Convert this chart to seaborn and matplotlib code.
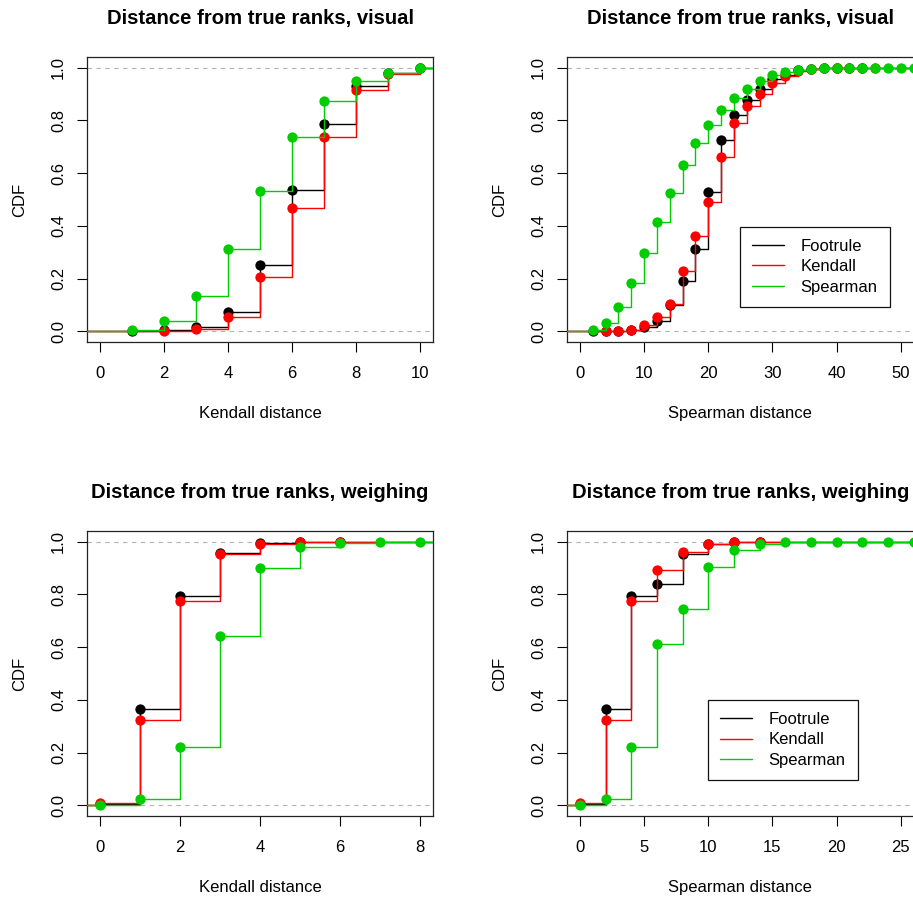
import numpy as np
import pandas as pd
import matplotlib
matplotlib.use("Agg")
import matplotlib.pyplot as plt
import seaborn as sns
from matplotlib.lines import Line2D

# ---- Visual task, Kendall distance ----
vis_kendall_foot_x = [1, 2, 3, 4, 5, 6, 7, 8, 9, 10]
vis_kendall_foot_y = [0.003, 0.005, 0.018, 0.074, 0.251, 0.537, 0.788, 0.932, 0.980, 1.0]
vis_kendall_kend_x = [2, 3, 4, 5, 6, 7, 8, 9, 10]
vis_kendall_kend_y = [0.002, 0.008, 0.054, 0.207, 0.466, 0.737, 0.914, 0.977, 1.0]
vis_kendall_spear_x = [1, 2, 3, 4, 5, 6, 7, 8, 9, 10]
vis_kendall_spear_y = [0.004, 0.038, 0.135, 0.312, 0.534, 0.736, 0.874, 0.948, 0.981, 1.0]

# ---- Visual task, Spearman distance ----
vis_spear_foot_x = [2, 4, 6, 8, 10, 12, 14, 16, 18, 20, 22, 24, 26, 28, 30, 32, 34, 36, 38, 40, 42, 44]
vis_spear_foot_y = [0.001, 0.002, 0.003, 0.006, 0.017, 0.040, 0.100, 0.190, 0.313, 0.530, 0.725,
                    0.820, 0.876, 0.919, 0.955, 0.973, 0.989, 0.995, 0.998, 0.999, 0.999, 1.0]
vis_spear_kend_x = [4, 6, 8, 10, 12, 14, 16, 18, 20, 22, 24, 26, 28, 30, 32, 34, 36, 38, 40, 42, 44, 46]
vis_spear_kend_y = [0.001, 0.002, 0.006, 0.026, 0.056, 0.105, 0.229, 0.361, 0.490, 0.662, 0.790,
                    0.856, 0.900, 0.942, 0.967, 0.986, 0.995, 0.998, 0.999, 0.999, 0.999, 1.0]
vis_spear_spear_x = [2, 4, 6, 8, 10, 12, 14, 16, 18, 20, 22, 24, 26, 28, 30, 32, 34, 36, 38, 40,
                     42, 44, 46, 48, 50, 52]
vis_spear_spear_y = [0.004, 0.033, 0.092, 0.182, 0.298, 0.414, 0.525, 0.629, 0.716, 0.784, 0.841,
                     0.885, 0.920, 0.948, 0.970, 0.982, 0.989, 0.995, 0.997, 0.998, 0.999, 0.999,
                     1.0, 1.0, 1.0, 1.0]

# ---- Weighing task, Kendall distance ----
wei_kendall_foot_x = [0, 1, 2, 3, 4, 5, 6]
wei_kendall_foot_y = [0.006, 0.366, 0.794, 0.955, 0.993, 0.998, 1.0]
wei_kendall_kend_x = [0, 1, 2, 3, 4, 5, 6]
wei_kendall_kend_y = [0.008, 0.322, 0.774, 0.953, 0.992, 0.997, 1.0]
wei_kendall_spear_x = [0, 1, 2, 3, 4, 5, 6, 7, 8]
wei_kendall_spear_y = [0.001, 0.023, 0.221, 0.641, 0.899, 0.979, 0.996, 0.999, 1.0]

# ---- Weighing task, Spearman distance ----
wei_spear_foot_x = [0, 2, 4, 6, 8, 10, 12, 14]
wei_spear_foot_y = [0.006, 0.366, 0.793, 0.838, 0.951, 0.992, 0.998, 1.0]
wei_spear_kend_x = [0, 2, 4, 6, 8, 10, 12, 14]
wei_spear_kend_y = [0.010, 0.322, 0.773, 0.891, 0.962, 0.992, 0.997, 1.0]
wei_spear_spear_x = [0, 2, 4, 6, 8, 10, 12, 14, 16, 18, 20, 22, 24, 26]
wei_spear_spear_y = [0.001, 0.023, 0.220, 0.612, 0.746, 0.904, 0.968, 0.990, 0.998, 1.0, 1.0,
                     1.0, 1.0, 1.0]

methods = ["Footrule", "Kendall", "Spearman"]
colors = {"Footrule": "#000000", "Kendall": "#FF0000", "Spearman": "#00CD00"}

sns.set_theme(style="ticks")
plt.rcParams["font.family"] = ["Liberation Sans", "DejaVu Sans"]
plt.rcParams["text.color"] = "black"

W, H = 913, 899
fig = plt.figure(figsize=(W / 100, H / 100), dpi=100)


def make_axes(left_px, top_px, width_px=346, height_px=285):
    return fig.add_axes([left_px / W, 1 - (top_px + height_px) / H, width_px / W, height_px / H])


def ecdf_panel(ax, series, xlim, xticks, title, xlabel, legend_anchor=None):
    pad = 0.04 * (xlim[1] - xlim[0])
    lo, hi = xlim[0] - pad, xlim[1] + pad
    ax.axhline(0, color="#B3B3B3", ls=(0, (4, 4)), lw=0.8, zorder=1)
    ax.axhline(1, color="#B3B3B3", ls=(0, (4, 4)), lw=0.8, zorder=1)
    for i, (name, xs, ys) in enumerate(series):
        step = pd.DataFrame({"x": [lo] + list(xs) + [hi + 5],
                             "F": [0.0] + list(ys) + [ys[-1]]})
        pts = pd.DataFrame({"x": xs, "F": ys})
        sns.lineplot(data=step, x="x", y="F", drawstyle="steps-post", estimator=None,
                     sort=False, color=colors[name], lw=1.0, ax=ax, zorder=2 + 2 * i)
        sns.scatterplot(data=pts, x="x", y="F", color=colors[name], s=55, linewidth=0,
                        ax=ax, zorder=3 + 2 * i, clip_on=True)
    ax.set_xlim(lo, hi)
    ax.set_ylim(-0.04, 1.04)
    ax.set_xticks(xticks)
    ax.set_yticks([0, 0.2, 0.4, 0.6, 0.8, 1.0])
    ax.set_yticklabels(["0.0", "0.2", "0.4", "0.6", "0.8", "1.0"])
    ax.tick_params(axis="both", direction="out", length=7, width=0.8, color="black",
                   labelsize=12, labelcolor="black")
    ax.tick_params(axis="x", pad=10)
    ax.tick_params(axis="y", pad=8)
    plt.setp(ax.get_yticklabels(), rotation=90, va="center")
    for sp in ax.spines.values():
        sp.set_color("#222222")
        sp.set_linewidth(0.9)
    ax.set_title(title, fontsize=14.6, fontweight="bold", pad=24, color="black")
    ax.set_xlabel(xlabel, fontsize=12, color="black")
    ax.set_ylabel("CDF", fontsize=12, color="black")
    ax.xaxis.set_label_coords(0.5, -0.225)
    ax.yaxis.set_label_coords(-0.173, 0.5)
    if legend_anchor is not None:
        handles = [Line2D([0], [0], color=colors[m], lw=1.0) for m in methods]
        leg = ax.legend(handles, methods, loc="upper left", bbox_to_anchor=legend_anchor,
                        fontsize=12, frameon=True, fancybox=False, framealpha=1,
                        edgecolor="#111111", handlelength=1.9, handletextpad=1.0,
                        borderpad=0.72, labelspacing=0.32, borderaxespad=0)
        leg.get_frame().set_linewidth(0.9)
        leg.set_zorder(20)


ax1 = make_axes(87, 57)
ax2 = make_axes(567, 57, width_px=346.5)
ax3 = make_axes(87, 531)
ax4 = make_axes(567, 531, width_px=346.5)

ecdf_panel(ax1,
           [("Footrule", vis_kendall_foot_x, vis_kendall_foot_y),
            ("Kendall", vis_kendall_kend_x, vis_kendall_kend_y),
            ("Spearman", vis_kendall_spear_x, vis_kendall_spear_y)],
           (0, 10), [0, 2, 4, 6, 8, 10],
           "Distance from true ranks, visual", "Kendall distance")
ecdf_panel(ax2,
           [("Footrule", vis_spear_foot_x, vis_spear_foot_y),
            ("Kendall", vis_spear_kend_x, vis_spear_kend_y),
            ("Spearman", vis_spear_spear_x, vis_spear_spear_y)],
           (0, 50), [0, 10, 20, 30, 40, 50],
           "Distance from true ranks, visual", "Spearman distance",
           legend_anchor=(0.5, 0.404))
ecdf_panel(ax3,
           [("Footrule", wei_kendall_foot_x, wei_kendall_foot_y),
            ("Kendall", wei_kendall_kend_x, wei_kendall_kend_y),
            ("Spearman", wei_kendall_spear_x, wei_kendall_spear_y)],
           (0, 8), [0, 2, 4, 6, 8],
           "Distance from true ranks, weighing", "Kendall distance")
ecdf_panel(ax4,
           [("Footrule", wei_spear_foot_x, wei_spear_foot_y),
            ("Kendall", wei_spear_kend_x, wei_spear_kend_y),
            ("Spearman", wei_spear_spear_x, wei_spear_spear_y)],
           (0, 25), [0, 5, 10, 15, 20, 25],
           "Distance from true ranks, weighing", "Spearman distance",
           legend_anchor=(0.408, 0.407))

fig.savefig("out.png", dpi=100, facecolor="white")
